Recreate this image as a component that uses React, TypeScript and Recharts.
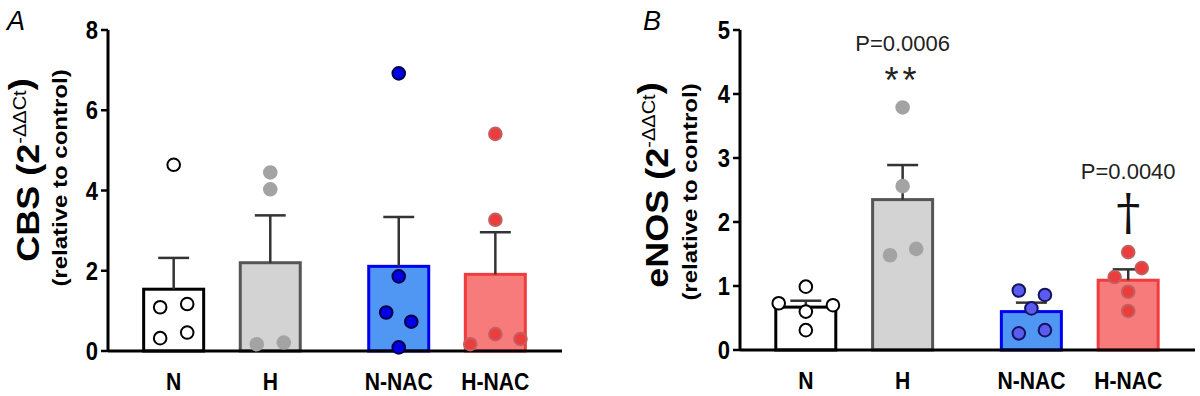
import React from 'react';
import { ComposedChart, Bar, Scatter, XAxis, YAxis, ReferenceLine, ReferenceDot, Cell } from 'recharts';

// groups and where they sit on the x axis (gap between H and N-NAC)
const GROUPS = ['N', 'H', 'N-NAC', 'H-NAC'];
const GROUP_POS = [0, 1, 2.33, 3.33];

// panel A: CBS
const CBS_TICKS = [0, 2, 4, 6, 8];
const CBS_MEAN = [1.54, 2.2, 2.11, 1.91];
const CBS_SEM = [0.78, 1.18, 1.23, 1.05];
const CBS_POINTS = [
  [4.64, 1.09, 1.17, 0.32, 0.46],
  [4.45, 4.03, 0.17, 0.21],
  [6.92, 1.86, 0.96, 0.73, 0.09],
  [5.41, 3.27, 0.42, 0.17, 0.3],
];
const CBS_JITTER = [
  [0, -0.14, 0.14, -0.14, 0.14],
  [0, 0, -0.14, 0.14],
  [0, 0, -0.13, 0.13, 0],
  [0, 0, 0, -0.26, 0.26],
];

// panel B: eNOS
const ENOS_TICKS = [0, 1, 2, 3, 4, 5];
const ENOS_MEAN = [0.67, 2.35, 0.6, 1.09];
const ENOS_SEM = [0.1, 0.54, 0.14, 0.17];
const ENOS_POINTS = [
  [0.99, 0.73, 0.7, 0.6, 0.31],
  [3.79, 2.56, 1.48, 1.58],
  [0.93, 0.86, 0.65, 0.26, 0.31],
  [1.53, 1.28, 1.14, 0.91, 0.61],
];
const ENOS_JITTER = [
  [0, -0.28, 0.28, 0, 0],
  [0, 0, -0.13, 0.14],
  [-0.13, 0.14, 0, -0.13, 0.14],
  [0, 0.14, -0.14, 0, 0],
];

const BAR_FILL = ['#ffffff', '#d3d3d3', '#4f97f2', '#f77b7b'];
const BAR_STROKE = ['#000000', '#555555', '#0000f0', '#f03c3c'];
const DOT_FILL_A = ['#ffffff', '#a3a3a3', '#0000e6', '#ee3b3b'];
const DOT_STROKE_A = ['#000000', '#a3a3a3', '#00004a', '#c06060'];
const DOT_FILL_B = ['#ffffff', '#a3a3a3', '#5b5bf0', '#ee3b3b'];
const DOT_STROKE_B = ['#000000', '#a3a3a3', '#141460', '#c06060'];

const FONT = '"Liberation Sans", Arial, sans-serif';
const SQ = 0.88; // the figure's lettering is a little narrow
const CAP = 0.16;
const BAR_W = 60;
const X_DOMAIN = [-0.68, 4.02];

type PanelProps = {
  width: number;
  yWidth: number;
  marginRight: number;
  bottom: number;
  ticks: number[];
  mean: number[];
  sem: number[];
  points: number[][];
  jitter: number[][];
  dotFill: string[];
  dotStroke: string[];
  children?: React.ReactNode;
};

// bar drawn centred on the position the library computed, at a fixed width
function WideBar(s: any) {
  const i = s.index;
  const cx = s.x + s.width / 2;
  return (
    <rect
      x={cx - BAR_W / 2}
      y={s.y}
      width={BAR_W}
      height={s.height}
      fill={BAR_FILL[i]}
      stroke={BAR_STROKE[i]}
      strokeWidth={3}
    />
  );
}

function XTick(props: any) {
  const { x, y, payload } = props;
  return (
    <g transform={`translate(${x},${y})`}>
      <text transform={`scale(${SQ},1)`} y={33} textAnchor="middle" fontSize={24} fontWeight="bold"
        fontFamily={FONT} fill="#000">
        {GROUPS[GROUP_POS.indexOf(payload.value)]}
      </text>
    </g>
  );
}

function YTick(props: any) {
  const { x, y, payload } = props;
  return (
    <g transform={`translate(${x},${y})`}>
      <text transform={`scale(${SQ},1)`} dy={9} textAnchor="end" fontSize={25} fontWeight="bold"
        fontFamily={FONT} fill="#000">
        {payload.value}
      </text>
    </g>
  );
}

function Panel(p: PanelProps) {
  const bars = GROUPS.map((g, i) => ({ x: GROUP_POS[i], mean: p.mean[i], name: g }));
  const ymax = p.ticks[p.ticks.length - 1];
  return (
    <ComposedChart
      width={p.width}
      height={396}
      data={bars}
      margin={{ top: 30, right: p.marginRight, left: 0, bottom: p.bottom }}
    >
      <XAxis
        type="number"
        dataKey="x"
        domain={X_DOMAIN}
        allowDataOverflow
        ticks={GROUP_POS}
        tickLine={false}
        axisLine={{ stroke: '#000', strokeWidth: 3 }}
        tick={XTick}
        tickMargin={0}
        height={40}
        interval={0}
      />
      <YAxis
        type="number"
        domain={[0, ymax]}
        ticks={p.ticks}
        width={p.yWidth}
        axisLine={{ stroke: '#000', strokeWidth: 3 }}
        tickLine={{ stroke: '#000', strokeWidth: 2.5 }}
        tickSize={7}
        tickMargin={3}
        tick={YTick}
      />
      <Bar dataKey="mean" shape={WideBar} isAnimationActive={false}>
        {bars.map((b, i) => (
          <Cell key={b.name} fill={BAR_FILL[i]} stroke={BAR_STROKE[i]} />
        ))}
      </Bar>
      {GROUP_POS.map((pos, i) => (
        <ReferenceLine
          key={'stem' + i}
          segment={[{ x: pos, y: p.mean[i] }, { x: pos, y: p.mean[i] + p.sem[i] }]}
          stroke="#333"
          strokeWidth={2.5}
        />
      ))}
      {GROUP_POS.map((pos, i) => (
        <ReferenceLine
          key={'cap' + i}
          segment={[{ x: pos - CAP, y: p.mean[i] + p.sem[i] }, { x: pos + CAP, y: p.mean[i] + p.sem[i] }]}
          stroke="#333"
          strokeWidth={2.5}
        />
      ))}
      {GROUPS.map((g, i) => (
        <Scatter
          key={'pts' + g}
          data={p.points[i].map((v, k) => ({ x: GROUP_POS[i] + p.jitter[i][k], y: v }))}
          dataKey="y"
          isAnimationActive={false}
          shape={(s: any) => (
            <circle cx={s.cx} cy={s.cy} r={6.3} fill={p.dotFill[i]} stroke={p.dotStroke[i]} strokeWidth={2} />
          )}
        />
      ))}
      {p.children}
    </ComposedChart>
  );
}

const annot = { fill: '#222', fontSize: 22, fontFamily: FONT };

export default function App() {
  return (
    <div style={{ position: 'fixed', left: 0, top: 0, width: 1200, height: 396, background: '#fff' }}>
      <div style={{ position: 'absolute', left: 0, top: 0 }}>
        <Panel
          width={600}
          yWidth={108}
          marginRight={38}
          bottom={5}
          ticks={CBS_TICKS}
          mean={CBS_MEAN}
          sem={CBS_SEM}
          points={CBS_POINTS}
          jitter={CBS_JITTER}
          dotFill={DOT_FILL_A}
          dotStroke={DOT_STROKE_A}
        />
      </div>
      <div style={{ position: 'absolute', left: 600, top: 0 }}>
        <Panel
          width={600}
          yWidth={140}
          marginRight={5}
          bottom={6}
          ticks={ENOS_TICKS}
          mean={ENOS_MEAN}
          sem={ENOS_SEM}
          points={ENOS_POINTS}
          jitter={ENOS_JITTER}
          dotFill={DOT_FILL_B}
          dotStroke={DOT_STROKE_B}
        >
          <ReferenceDot x={GROUP_POS[1]} y={4.8} r={0} stroke="none" fill="none"
            label={{ value: 'P=0.0006', position: 'center', ...annot }} />
          <ReferenceDot x={GROUP_POS[1]} y={4.22} r={0} stroke="none" fill="none"
            label={{ value: '**', position: 'center', fill: '#222', fontSize: 36, fontFamily: FONT, letterSpacing: 4 }} />
          <ReferenceDot x={GROUP_POS[3]} y={2.8} r={0} stroke="none" fill="none"
            label={{ value: 'P=0.0040', position: 'center', ...annot }} />
          <ReferenceDot x={GROUP_POS[3]} y={2.15} r={0} stroke="none" fill="none"
            label={{ value: '†', position: 'center', fill: '#111', fontSize: 48, fontFamily: '"DejaVu Serif", serif' }} />
        </Panel>
      </div>
      <svg width={1200} height={396} style={{ position: 'absolute', left: 0, top: 0, pointerEvents: 'none' }}>
        <g fontFamily={FONT} fill="#000">
          <text x={7} y={30} fontSize={27} fontStyle="italic">A</text>
          <text x={643} y={30} fontSize={27} fontStyle="italic">B</text>
          <text transform={`translate(39,170) scale(${SQ},1) rotate(-90)`} textAnchor="middle" fontSize={36} fontWeight="bold">
            CBS (2<tspan fontSize={20} fontWeight="normal" dy={-15}>-ΔΔCt</tspan><tspan dy={6}>)</tspan>
          </text>
          <text transform={`translate(67,178) scale(${SQ},1) rotate(-90)`} textAnchor="middle" fontSize={24} fontWeight="bold">
            (relative to control)
          </text>
          <text transform={`translate(668,185) scale(${SQ},1) rotate(-90)`} textAnchor="middle" fontSize={36} fontWeight="bold">
            eNOS (2<tspan fontSize={20} fontWeight="normal" dy={-15}>-ΔΔCt</tspan><tspan dy={6}>)</tspan>
          </text>
          <text transform={`translate(697,192) scale(${SQ},1) rotate(-90)`} textAnchor="middle" fontSize={24} fontWeight="bold">
            (relative to control)
          </text>
        </g>
      </svg>
    </div>
  );
}
